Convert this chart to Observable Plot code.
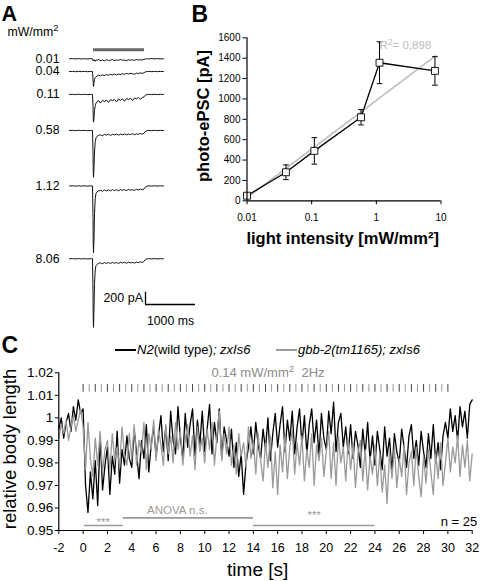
<!DOCTYPE html>
<html>
<head>
<meta charset="utf-8">
<script src="https://cdn.jsdelivr.net/npm/d3@7"></script>
<script src="https://cdn.jsdelivr.net/npm/@observablehq/plot@0.6"></script>
<style>
  html, body { margin: 0; padding: 0; background: #fff; }
  #fig { position: relative; width: 480px; height: 581px; overflow: hidden;
         font-family: "Liberation Sans", Arial, sans-serif; color: #000; }
  #fig svg { position: absolute; }
  .sup { font-size: 0.75em; vertical-align: 0.5em; line-height: 0; }
</style>
</head>
<body>
<div id="fig"></div>
<script>
// ================= DATA =================
// Panel A: photo-evoked currents (pA) per light intensity, sampled at traceTimeMs
const intensityLabels = ["0.01", "0.04", "0.11", "0.58", "1.12", "8.06"];
const traceTimeMs = [0, 60, 120, 180, 240, 300, 360, 420,
  460, 470, 475, 480, 490, 500, 515, 530, 550, 580,
  620, 660, 700, 740, 780, 820, 860, 900, 940, 980,
  1020, 1060, 1100, 1140, 1180, 1220, 1260, 1300, 1340, 1380,
  1420, 1460, 1490, 1510, 1540, 1580, 1640, 1700, 1760, 1820, 1880];
const trace001 = [0, 3, -2, 4, -3, 2, -4, 3,
  0, -25, -35, -20, -30, -15, -40, -18, -25, -12,
  -30, -20, -35, -15, -28, -22, -14, -30, -18, -26,
  -12, -24, -20, -32, -15, -22, -18, -25, -12, -20,
  -15, -18, -10, -5, 2, -3, 4, -2, 3, -1, 0];
const trace004 = [0, 3, -3, 4, -2, 3, -3, 2,
  0, -120, -200, -245, -180, -130, -100, -85, -75, -60,
  -70, -55, -65, -50, -60, -45, -58, -42, -55, -40,
  -50, -35, -45, -30, -40, -28, -35, -45, -25, -32,
  -22, -30, -20, -8, -2, 3, -2, 3, -2, 2, 0];
const trace011 = [0, 3, -3, 4, -2, 3, -3, 2,
  0, -200, -380, -450, -380, -260, -180, -140, -120, -100,
  -140, -95, -115, -90, -130, -85, -100, -80, -120, -75,
  -95, -70, -110, -65, -85, -60, -100, -55, -70, -50,
  -75, -50, -40, -15, -3, 3, -2, 3, -2, 2, 0];
const trace058 = [0, 3, -3, 4, -2, 3, -3, 2,
  0, -350, -650, -760, -600, -350, -180, -120, -95, -80,
  -70, -85, -65, -75, -60, -80, -62, -70, -58, -75,
  -60, -68, -55, -72, -58, -65, -52, -68, -55, -62,
  -50, -58, -45, -20, -5, 3, -2, 3, -2, 2, 0];
const trace112 = [0, 3, -3, 4, -2, 3, -3, 2,
  0, -500, -950, -1085, -850, -450, -200, -120, -95, -80,
  -70, -85, -65, -78, -62, -80, -60, -75, -62, -78,
  -58, -70, -60, -74, -56, -68, -62, -72, -55, -65,
  -52, -60, -48, -22, -6, 3, -2, 3, -2, 2, 0];
const trace806 = [0, 3, -3, 4, -2, 3, -3, 2,
  0, -520, -980, -1115, -800, -400, -180, -110, -90, -75,
  -65, -80, -62, -75, -60, -78, -58, -72, -60, -76,
  -56, -68, -58, -72, -55, -66, -60, -70, -53, -62,
  -50, -58, -45, -20, -5, 3, -2, 3, -2, 2, 0];
const lightOnMs = 480, lightOffMs = 1500;
const scaleBarPA = 200, scaleBarMs = 1000;

// Panel B: photo-ePSC vs light intensity
const intensityB = [0.01, 0.04, 0.11, 0.58, 1.12, 8.06];
const epscMean = [50, 280, 490, 820, 1355, 1275];
const epscSEM = [15, 72, 130, 75, 205, 140];
const fitX = [0.01, 8.3];
const fitY = [30, 1426];
const fitR2 = "0,898";
const bYTicks = [0, 200, 400, 600, 800, 1000, 1200, 1400, 1600];
const bXTicks = [0.01, 0.1, 1, 10];
const bXTickLabels = ["0.01", "0.1", "1", "10"];

// Panel C: relative body length, sampled every 0.2 s from -2 s
const cStartS = -2, cStepS = 0.2;
const lengthN2 = [
  0.995, 1.000, 0.991, 0.998, 1.002, 0.994, 1.005, 0.999, 1.008, 1.002,
  1.004, 0.970, 0.958, 0.976, 0.964, 0.981, 0.961, 0.992, 0.968, 0.979,
  0.987, 0.966, 0.983, 0.975, 0.994, 0.971, 0.986, 0.979, 0.992, 0.982,
  0.978, 0.995, 0.984, 0.973, 0.990, 0.982, 0.997, 0.976, 0.988, 0.996,
  0.983, 0.992, 1.001, 0.985, 0.996, 0.981, 1.003, 0.990, 0.984, 1.005,
  0.991, 0.982, 1.002, 0.987, 0.997, 1.004, 0.983, 0.999, 0.988, 1.003,
  0.985, 0.995, 1.006, 0.984, 0.998, 0.989, 1.004, 0.982, 0.996, 0.990,
  0.983, 0.995, 0.978, 0.989, 0.974, 0.984, 0.966, 0.980, 0.987, 0.996,
  0.984, 0.998, 0.988, 0.982, 0.995, 0.986, 1.000, 0.981, 0.993, 1.002,
  0.987, 0.997, 1.005, 0.985, 0.999, 0.990, 1.003, 0.984, 0.996, 1.004,
  0.988, 1.001, 0.984, 0.997, 1.004, 0.989, 0.999, 0.983, 1.002, 0.991,
  0.986, 1.003, 0.993, 1.007, 0.985, 0.998, 1.002, 0.987, 0.996, 0.984,
  0.997, 0.982, 0.994, 0.988, 0.978, 0.995, 0.984, 0.998, 0.981, 0.992,
  0.979, 0.994, 0.986, 0.977, 0.996, 0.983, 0.991, 0.976, 0.993, 0.985,
  0.980, 0.995, 0.987, 0.978, 0.992, 0.997, 0.982, 0.990, 0.979, 0.994,
  0.985, 0.978, 0.993, 0.982, 0.997, 0.980, 0.989, 0.977, 0.992, 0.998,
  0.991, 1.004, 0.994, 1.001, 0.990, 1.005, 0.996, 1.003, 0.991, 1.006,
  1.008];
const lengthGbb2 = [
  0.991, 0.997, 0.993, 0.999, 0.990, 0.996, 1.001, 0.994, 0.999, 1.004,
  0.996, 0.977, 0.998, 0.982, 0.974, 0.991, 0.979, 0.994, 0.976, 0.986,
  0.990, 0.977, 0.993, 0.981, 0.987, 0.978, 0.996, 0.984, 0.979, 0.993,
  0.982, 0.997, 0.979, 0.990, 0.984, 0.998, 0.977, 0.993, 0.986, 0.999,
  0.981, 0.995, 0.988, 0.979, 0.997, 0.984, 0.992, 0.980, 0.998, 0.986,
  0.994, 0.979, 0.990, 0.997, 0.983, 0.992, 0.977, 0.996, 0.985, 0.991,
  0.980, 0.995, 0.986, 0.998, 0.979, 0.992, 1.003, 0.981, 0.993, 0.984,
  0.996, 0.979, 0.988, 0.975, 0.993, 0.983, 0.989, 0.978, 0.996, 0.982,
  0.990, 0.975, 0.993, 0.981, 0.972, 0.989, 0.978, 0.992, 0.969, 0.985,
  0.966, 0.988, 0.976, 0.992, 0.973, 0.987, 0.995, 0.975, 0.989, 0.979,
  0.992, 0.972, 0.986, 0.978, 0.993, 0.970, 0.988, 0.981, 0.991, 0.974,
  0.985, 0.994, 0.973, 0.989, 0.970, 0.992, 0.980, 0.987, 0.972, 0.990,
  0.977, 0.988, 0.969, 0.984, 0.990, 0.972, 0.986, 0.968, 0.983, 0.975,
  0.988, 0.970, 0.984, 0.967, 0.979, 0.962, 0.985, 0.973, 0.987, 0.969,
  0.982, 0.974, 0.988, 0.966, 0.980, 0.985, 0.970, 0.987, 0.974, 0.965,
  0.983, 0.971, 0.986, 0.976, 0.966, 0.984, 0.973, 0.989, 0.970, 0.980,
  0.991, 0.976, 0.987, 0.980, 0.992, 0.974, 0.988, 0.978, 0.990, 0.972,
  0.984];
const pulseStartS = 0, pulseEndS = 30, pulseHz = 2;
const statStartS = [0.1, 3.3, 14];
const statEndS = [3.3, 14, 24];
const statText = ["***", "ANOVA n.s.", "***"];
const cYTicks = [0.95, 0.96, 0.97, 0.98, 0.99, 1, 1.01, 1.02];
const cYTickLabels = ["0.95", "0.96", "0.97", "0.98", "0.99", "1", "1.01", "1.02"];
const cXTicks = [-2, 0, 2, 4, 6, 8, 10, 12, 14, 16, 18, 20, 22, 24, 26, 28, 30, 32];
const sampleSize = 25;

// ================= LAYOUT =================
const FONT = '"Liberation Sans", Arial, sans-serif';
const fig = document.getElementById("fig");

// baseline-positioned HTML text; lh = line-height factor
function label(html, x, baseline, fs, o = {}) {
  const lh = o.lh || 1;
  const L = lh * fs;
  const d = document.createElement("div");
  d.innerHTML = html;
  const s = d.style;
  s.position = "absolute";
  s.whiteSpace = "nowrap";
  s.fontSize = fs + "px";
  s.lineHeight = L + "px";
  s.left = x + "px";
  s.top = (baseline - 0.905 * fs - (L - 1.117 * fs) / 2) + "px";
  if (o.anchor === "middle") s.transform = "translateX(-50%)";
  if (o.anchor === "end") s.transform = "translateX(-100%)";
  if (o.weight) s.fontWeight = o.weight;
  if (o.color) s.color = o.color;
  if (o.italic) s.fontStyle = "italic";
  fig.appendChild(d);
  return d;
}
function vlabel(html, cx, cy, fs, o = {}) {
  const d = document.createElement("div");
  d.innerHTML = html;
  const s = d.style;
  s.position = "absolute";
  s.whiteSpace = "nowrap";
  s.fontSize = fs + "px";
  s.lineHeight = (0.85 * fs) + "px";
  s.left = cx + "px";
  s.top = cy + "px";
  s.transform = "translate(-50%, -50%) rotate(-90deg)";
  if (o.weight) s.fontWeight = o.weight;
  fig.appendChild(d);
}
function place(svg, left, top) {
  svg.style.left = left + "px";
  svg.style.top = top + "px";
  fig.appendChild(svg);
}

// ---------- Panel C ----------
const cTimes = lengthN2.map((_, i) => +(cStartS + i * cStepS).toFixed(1));
const seriesN2 = lengthN2.map((v, i) => ({t: cTimes[i], v}));
const seriesGbb = lengthGbb2.map((v, i) => ({t: cTimes[i], v}));
const pulses = d3.range(pulseStartS, pulseEndS + 1e-9, 1 / pulseHz);
const statY = [0.9522, 0.9556, 0.9522];
const statLabelX = [1.65, 7.75, 19.0];
const statLabelY = [0.9537, 0.9588, 0.9567];
const stats = statText.map((s, i) => ({x1: statStartS[i], x2: statEndS[i], y: statY[i], lx: statLabelX[i], ly: statLabelY[i], s}));

const plotC = Plot.plot({
  width: 480, height: 251,
  marginLeft: 58.3, marginRight: 8.3, marginTop: 42.3, marginBottom: 51,
  style: {background: "none", fontFamily: FONT, fontSize: "12.5px", color: "#000", overflow: "visible"},
  x: {domain: [-2, 32], label: null},
  y: {domain: [0.95, 1.02], label: null},
  marks: [
    Plot.ruleX(pulses, {x: d => d, y1: 1.0114, y2: 1.0148, stroke: (d, i) => (i % 2 ? "#999999" : "#444444"), strokeWidth: 1}),
    Plot.line(seriesN2, {x: "t", y: "v", stroke: "#000", strokeWidth: 1.3}),
    Plot.line(seriesGbb, {x: "t", y: "v", stroke: "#9a9a9a", strokeWidth: 1.3}),
    Plot.ruleY(stats, {x1: "x1", x2: "x2", y: "y", stroke: "#9a9a9a", strokeWidth: 1.6}),
    Plot.text(stats, {x: "lx", y: "ly", text: "s", fill: "#9a9a9a", fontSize: 11.5}),
    Plot.text([`n = ${sampleSize}`], {x: 32, y: 0.9537, text: d => d, textAnchor: "end", dx: 5, fontSize: 13}),
    Plot.ruleY([0.95], {stroke: "#000", strokeWidth: 1.2}),
    Plot.ruleX([-2], {stroke: "#000", strokeWidth: 1.2}),
    Plot.axisY({ticks: cYTicks, tickFormat: d => cYTickLabels[cYTicks.indexOf(d)], tickSize: 3.5, tickPadding: 2, fontSize: 13.5, label: null}),
    Plot.axisX({ticks: cXTicks, tickFormat: d => String(d), tickSize: 4, tickPadding: 8.5, fontSize: 12.5, label: null})
  ]
});
place(plotC, 0, 330);

// ---------- Panel A ----------
const traceOffsetPA = [0, -207, -580, -1166, -2068, -3252];
const traces = [trace001, trace004, trace011, trace058, trace112, trace806];
const traceRows = traces.flatMap((tr, k) => tr.map((v, j) => ({t: traceTimeMs[j], v: traceOffsetPA[k] + v, k})));
const traceLabels = intensityLabels.map((s, k) => ({s, y: traceOffsetPA[k]}));
const sbX = 1520, sbY = -3995;

const plotA = Plot.plot({
  width: 200, height: 340,
  style: {background: "none", fontFamily: FONT, fontSize: "12px", color: "#000", overflow: "visible"},
  x: {domain: [0, 2620], range: [69, 200], axis: null},
  y: {domain: [0, -4500], range: [58.3, 335.05], axis: null},
  marks: [
    Plot.ruleY([146], {x1: lightOnMs, x2: lightOffMs, stroke: "#686868", strokeWidth: 3}),
    Plot.line(traceRows, {x: "t", y: "v", z: "k", stroke: "#111", strokeWidth: 1}),
    Plot.text(traceLabels, {x: -200, y: "y", text: "s", textAnchor: "end", fontSize: 12.3}),
    Plot.ruleX([sbX], {y1: sbY, y2: sbY + scaleBarPA, stroke: "#000", strokeWidth: 1.3}),
    Plot.ruleY([sbY], {x1: sbX, x2: sbX + scaleBarMs, stroke: "#000", strokeWidth: 1.3}),
    Plot.text([`${scaleBarPA} pA`], {x: sbX - 50, y: sbY + scaleBarPA / 2, text: d => d, textAnchor: "end", fontSize: 12.5}),
    Plot.text([`${scaleBarMs} ms`], {x: sbX + scaleBarMs / 2, y: sbY - 265, text: d => d, fontSize: 12.3})
  ]
});
place(plotA, 0, 0);

// ---------- Panel B ----------
const bData = intensityB.map((x, i) => ({x, y: epscMean[i], lo: epscMean[i] - epscSEM[i], hi: epscMean[i] + epscSEM[i]}));
const fitData = fitX.map((x, i) => ({x, y: fitY[i]}));
const capSymbol = {draw(ctx, size) { const r = Math.sqrt(size / Math.PI); ctx.moveTo(-r, 0); ctx.lineTo(r, 0); }};

const plotB = Plot.plot({
  width: 300, height: 260,
  marginLeft: 66.5, marginRight: 39.5, marginTop: 37.3, marginBottom: 59.7,
  style: {background: "none", fontFamily: FONT, fontSize: "10px", color: "#000", overflow: "visible"},
  x: {type: "log", domain: [0.01, 10], label: null},
  y: {domain: [0, 1600], label: null},
  marks: [
    Plot.line(fitData, {x: "x", y: "y", stroke: "#bdbdbd", strokeWidth: 1.5}),
    Plot.ruleX(bData, {x: "x", y1: "lo", y2: "hi", stroke: "#000", strokeWidth: 1}),
    Plot.dot(bData, {x: "x", y: "lo", symbol: capSymbol, r: 2.8, stroke: "#000", strokeWidth: 1}),
    Plot.dot(bData, {x: "x", y: "hi", symbol: capSymbol, r: 2.8, stroke: "#000", strokeWidth: 1}),
    Plot.line(bData, {x: "x", y: "y", stroke: "#000", strokeWidth: 1.3}),
    Plot.dot(bData, {x: "x", y: "y", symbol: "square", r: 3.9, fill: "#fff", stroke: "#000", strokeWidth: 0.9}),
    Plot.ruleY([0], {stroke: "#000", strokeWidth: 1.2}),
    Plot.ruleX([0.01], {stroke: "#000", strokeWidth: 1.2}),
    Plot.axisY({ticks: bYTicks, tickSize: 4, tickPadding: 2.5, fontSize: 10, label: null, tickFormat: d => String(d)}),
    Plot.axisX({ticks: bXTicks, tickFormat: d => bXTickLabels[bXTicks.indexOf(d)], tickSize: 4, tickPadding: 9, fontSize: 10, label: null})
  ]
});
place(plotB, 180, 0);

// ---------- Text annotations ----------
label("A", 1.5, 21.2, 21.5, {weight: "bold", lh: 0.75});
label("B", 191.5, 22.7, 23, {weight: "bold", lh: 0.75});
label("C", 1.5, 353.3, 23, {weight: "bold", lh: 0.75});
label('mW/mm<span class="sup">2</span>', 7.5, 37, 12.3, {lh: 0.8});

label(`R<span class="sup">2</span>= ${fitR2}`, 379.5, 50, 11.5, {color: "#bdbdbd"});
vlabel("photo-ePSC [pA]", 203.3, 116, 16.5, {weight: "bold"});
label("light intensity [mW/mm²]", 342.7, 243.5, 16.5, {weight: "bold", anchor: "middle"});

// Panel C legend and titles
function legendLine(x1, x2, y, color) {
  const d = document.createElement("div");
  const s = d.style;
  s.position = "absolute"; s.left = x1 + "px"; s.width = (x2 - x1) + "px";
  s.top = (y - 1.25) + "px"; s.height = "2.5px"; s.background = color;
  fig.appendChild(d);
}
legendLine(115, 135.5, 350, "#000");
label('<i>N2</i>(wild type)<i>; zxIs6</i>', 137, 354.5, 13);
legendLine(276, 296.5, 350, "#9a9a9a");
label('<i>gbb-2(tm1165); zxIs6</i>', 298, 354.5, 13);
label('0.14 mW/mm<span class="sup">2</span>&nbsp; 2Hz', 268, 376.8, 13, {anchor: "middle", color: "#8a8a8a"});
vlabel("relative body length", 9.6, 448.5, 18.5);
label("time [s]", 257.7, 576, 19, {anchor: "middle"});
</script>
</body>
</html>
